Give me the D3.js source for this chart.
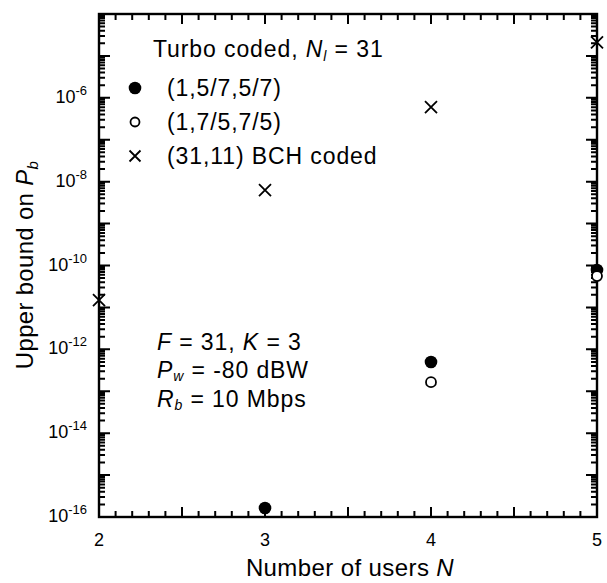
<!DOCTYPE html>
<html>
<head>
<meta charset="utf-8">
<script src="https://cdn.jsdelivr.net/npm/d3@7"></script>
<style>
  html, body { margin: 0; padding: 0; background: #fff; }
  svg { display: block; }
  text { font-family: "Liberation Sans", Arial, Helvetica, sans-serif; fill: #000; }
</style>
</head>
<body>
<div id="chart"></div>
<script>
// ---- data ----
const xTickLabels = [2, 3, 4, 5];
const yTickExponents = [-16, -14, -12, -10, -8, -6];
const bchUsers = [2, 3, 4, 5];
const bchValues = [1.5e-11, 6.3e-9, 6.0e-7, 2.1e-5];
const turbo575Users = [3, 4, 5];
const turbo575Values = [1.64e-16, 5.0e-13, 7.8e-11];
const turbo757Users = [4, 5];
const turbo757Values = [1.65e-13, 5.6e-11];
const legendLabels = ["(1,5/7,5/7)", "(1,7/5,7/5)", "(31,11) BCH coded"];

// ---- layout ----
const W = 607, H = 583;
const margin = { left: 99, top: 14 };
const width = 597 - margin.left;
const height = 517 - margin.top;

const svg = d3.select("#chart").append("svg").attr("width", W).attr("height", H);
const g = svg.append("g").attr("transform", `translate(${margin.left},${margin.top})`);

const x = d3.scaleLinear().domain([2, 5]).range([0, width]);
const y = d3.scaleLog().domain([1e-16, 1e-4]).range([height, 0]);

// tick values
const xMajor = d3.range(0, 7).map(i => 2 + i * 0.5);
const xMinor = d3.range(0, 31).filter(i => i % 5 !== 0).map(i => 2 + i * 0.1);
const yMajor = d3.range(-16, -3).map(e => Math.pow(10, e));
const yMinor = [];
for (let e = -16; e < -4; e++) for (let m = 2; m <= 9; m++) yMinor.push(m * Math.pow(10, e));

// inward tick marks on all four sides
const p = d3.path();
function addX(vals, len) {
  vals.forEach(v => {
    const px = x(v);
    p.moveTo(px, height); p.lineTo(px, height - len);
    p.moveTo(px, 0); p.lineTo(px, len);
  });
}
function addY(vals, len) {
  vals.forEach(v => {
    const py = y(v);
    p.moveTo(0, py); p.lineTo(len, py);
    p.moveTo(width, py); p.lineTo(width - len, py);
  });
}
addX(xMajor, 10); addX(xMinor, 6);
addY(yMajor, 11); addY(yMinor, 6);
g.append("path").attr("d", p.toString()).attr("fill", "none")
  .attr("stroke", "#000").attr("stroke-width", 2);

// frame
g.append("rect").attr("x", 0).attr("y", 0).attr("width", width).attr("height", height)
  .attr("fill", "none").attr("stroke", "#000").attr("stroke-width", 2.4);

// x tick labels
g.selectAll(".xlab").data(xTickLabels).enter().append("text")
  .attr("x", d => x(d)).attr("y", height + 29)
  .attr("text-anchor", "middle").attr("font-size", 18).text(d => d);

// y tick labels with superscripts
const yl = g.selectAll(".ylab").data(yTickExponents).enter().append("text")
  .attr("x", -12).attr("y", d => y(Math.pow(10, d)) + 5)
  .attr("text-anchor", "end").attr("font-size", 18);
yl.append("tspan").text("10");
yl.append("tspan").attr("font-size", 13).attr("dy", -8).text(d => "-" + Math.abs(d));

// axis titles
const xt = svg.append("text").attr("x", 350).attr("y", 576).attr("text-anchor", "middle")
  .attr("font-size", 24).attr("letter-spacing", 0.4);
xt.append("tspan").text("Number of users ");
xt.append("tspan").attr("font-style", "italic").text("N");

const yt = svg.append("text").attr("transform", "translate(33,265) rotate(-90)")
  .attr("text-anchor", "middle").attr("font-size", 24).attr("letter-spacing", 0.3);
yt.append("tspan").text("Upper bound on ");
yt.append("tspan").attr("font-style", "italic").text("P");
yt.append("tspan").attr("font-style", "italic").attr("font-size", 15).attr("dy", 5).text("b");

// ---- markers ----
function cross(sel, cx, cy, s) {
  sel.append("path")
    .attr("d", `M${cx - s},${cy - s}L${cx + s},${cy + s}M${cx - s},${cy + s}L${cx + s},${cy - s}`)
    .attr("stroke", "#000").attr("stroke-width", 1.8).attr("fill", "none");
}

const pts = g.append("g");
bchUsers.forEach((u, i) => cross(pts, x(u), y(bchValues[i]), 6));
pts.selectAll(".f").data(turbo575Users).enter().append("circle")
  .attr("cx", d => x(d)).attr("cy", (d, i) => y(turbo575Values[i])).attr("r", 6.3).attr("fill", "#000");
pts.selectAll(".o").data(turbo757Users).enter().append("circle")
  .attr("cx", d => x(d)).attr("cy", (d, i) => y(turbo757Values[i])).attr("r", 5)
  .attr("fill", "#fff").attr("stroke", "#000").attr("stroke-width", 1.8);

// ---- legend ----
const LS = 0.9;
const lt = svg.append("text").attr("x", 153).attr("y", 57).attr("font-size", 23).attr("letter-spacing", LS);
lt.append("tspan").text("Turbo coded, ");
lt.append("tspan").attr("font-style", "italic").text("N");
lt.append("tspan").attr("font-style", "italic").attr("font-size", 14).attr("dy", 4).text("l");
lt.append("tspan").attr("dy", -4).text(" = 31");

const legendY = [88, 122, 156];
svg.append("circle").attr("cx", 135).attr("cy", legendY[0]).attr("r", 6.3).attr("fill", "#000");
svg.append("circle").attr("cx", 135).attr("cy", legendY[1]).attr("r", 4.5)
  .attr("fill", "#fff").attr("stroke", "#000").attr("stroke-width", 1.8);
cross(svg, 135, legendY[2], 5.5);
svg.selectAll(".leg").data(legendLabels).enter().append("text")
  .attr("x", 167).attr("y", (d, i) => legendY[i] + 8).attr("font-size", 23)
  .attr("letter-spacing", LS).text(d => d);

// ---- annotation ----
const a1 = svg.append("text").attr("x", 157).attr("y", 350).attr("font-size", 23).attr("letter-spacing", LS);
a1.append("tspan").attr("font-style", "italic").text("F");
a1.append("tspan").text(" = 31, ");
a1.append("tspan").attr("font-style", "italic").text("K");
a1.append("tspan").text(" = 3");

const a2 = svg.append("text").attr("x", 157).attr("y", 378).attr("font-size", 23).attr("letter-spacing", LS);
a2.append("tspan").attr("font-style", "italic").text("P");
a2.append("tspan").attr("font-style", "italic").attr("font-size", 14).attr("dy", 3).text("w");
a2.append("tspan").attr("dy", -3).text(" = -80 dBW");

const a3 = svg.append("text").attr("x", 157).attr("y", 407).attr("font-size", 23).attr("letter-spacing", LS);
a3.append("tspan").attr("font-style", "italic").text("R");
a3.append("tspan").attr("font-style", "italic").attr("font-size", 14).attr("dy", 3).text("b");
a3.append("tspan").attr("dy", -3).text("  = 10 Mbps");
</script>
</body>
</html>
